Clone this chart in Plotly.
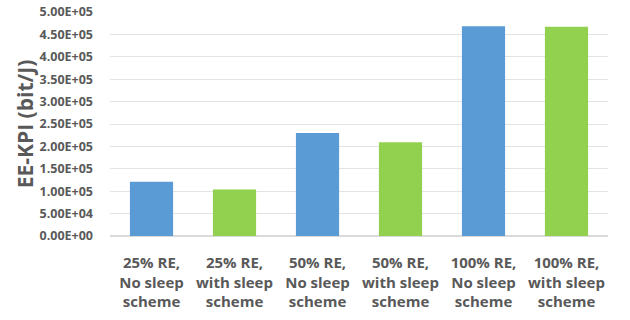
import plotly.graph_objects as go

categories = [
    "25% RE,<br>No sleep<br>scheme",
    "25% RE,<br>with sleep<br>scheme",
    "50% RE,<br>No sleep<br>scheme",
    "50% RE,<br>with sleep<br>scheme",
    "100% RE,<br>No sleep<br>scheme",
    "100% RE,<br>with sleep<br>scheme",
]
values = [1.21e5, 1.04e5, 2.30e5, 2.09e5, 4.68e5, 4.67e5]
bar_colors = ["#5B9BD5", "#92D050", "#5B9BD5", "#92D050", "#5B9BD5", "#92D050"]
tick_vals = [i * 5e4 for i in range(11)]
tick_text = ["0.00E+00", "5.00E+04", "1.00E+05", "1.50E+05", "2.00E+05", "2.50E+05",
             "3.00E+05", "3.50E+05", "4.00E+05", "4.50E+05", "5.00E+05"]

fig = go.Figure(go.Bar(
    x=categories, y=values,
    marker=dict(color=bar_colors, line=dict(width=0)),
))
fig.update_layout(
    width=630, height=320,
    margin=dict(l=110, r=22, t=12, b=84),
    plot_bgcolor="white", paper_bgcolor="white",
    bargap=0.48,
    showlegend=False,
    font=dict(family="Open Sans", color="#595959"),
)
fig.update_yaxes(
    range=[0, 5e5], tickvals=tick_vals, ticktext=tick_text,
    showgrid=True, gridcolor="#E3E3E3", gridwidth=1,
    zeroline=True, zerolinecolor="#D9D9D9",
    tickfont=dict(size=12.5, family="Open Sans", color="#595959", weight="bold"),
    ticklabelstandoff=16, automargin=False,
    title=dict(text="EE-KPI (bit/J)", font=dict(size=21, family="Open Sans", color="#595959", weight="bold"), standoff=0),
)
fig.update_xaxes(
    tickfont=dict(size=15, family="Open Sans", color="#595959", weight="bold"),
    showline=False, ticks="", ticklabelstandoff=16, automargin=False,
)
fig.write_html("out.html")
